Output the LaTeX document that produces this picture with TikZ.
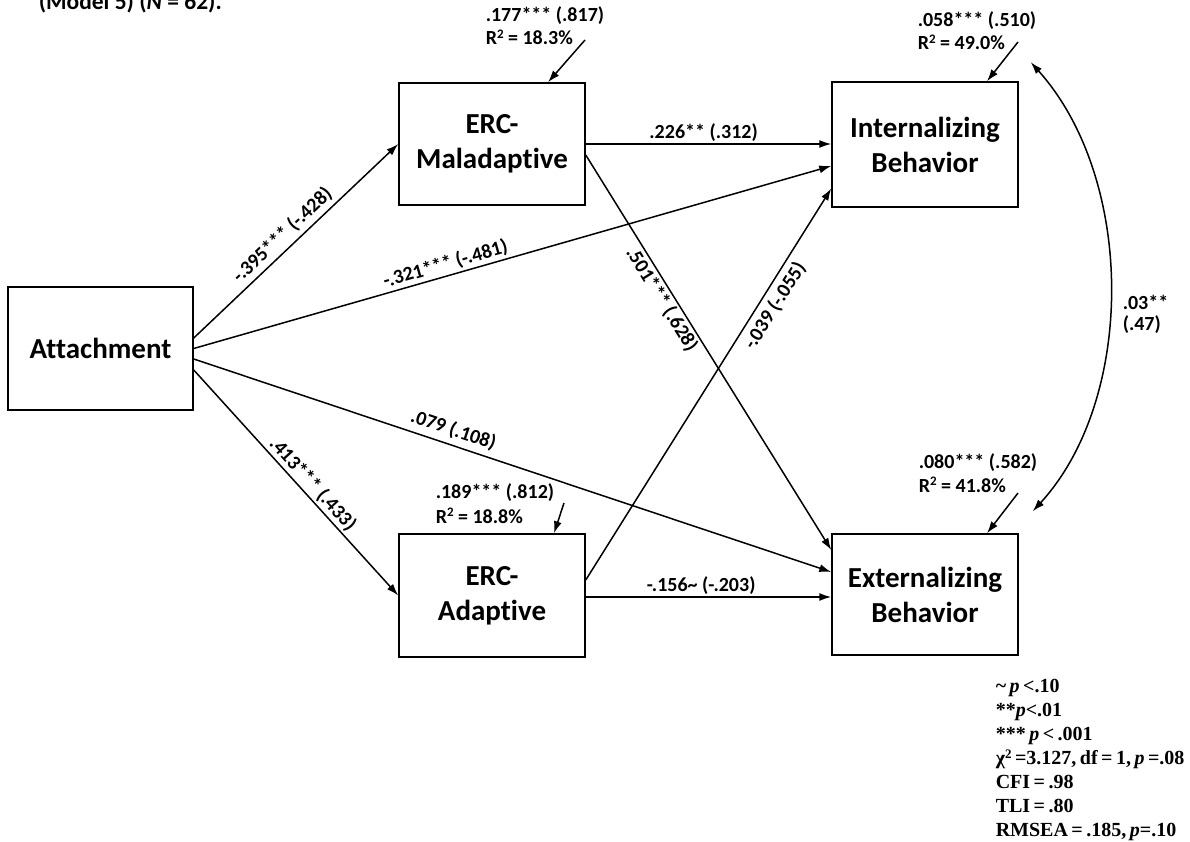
\documentclass[tikz,border=0pt]{standalone}
\usepackage{fontspec}
\setmainfont{Carlito}[Ligatures={NoCommon}]
\newfontfamily\legendfont{Liberation Serif}[WordSpace=0.7]
\usetikzlibrary{arrows.meta,calc}

% raised square for R-squared and chi-squared
\newcommand{\sqmark}{\raisebox{0.62ex}{\fontsize{13}{13}\selectfont 2}}

\begin{document}
\begin{tikzpicture}[x=1pt,y=-1pt,line width=1.5pt,
  box/.style={draw,line width=1.5pt,rectangle,inner sep=0pt,align=center,
              font=\bfseries\fontsize{29}{35}\selectfont},
  path/.style={-{Latex[length=12pt,width=8pt]}},
  coef/.style={font=\bfseries\fontsize{20}{24}\selectfont,inner sep=2pt},
  resid/.style={anchor=base west,inner sep=0pt,font=\bfseries\fontsize{20}{24}\selectfont},
  legendline/.style={anchor=base west,inner sep=0pt,font=\legendfont\bfseries\fontsize{20}{24}\selectfont}]

\useasboundingbox (0,0) rectangle (1190,842);

% caption fragment at the top
\node[anchor=base west,inner sep=0pt,font=\bfseries\fontsize{23.5}{28}\selectfont] (cap) at (38,9.5) {(Model 5) (\textit{N} = 62).};

% variables
\node[box,minimum width=185pt,minimum height=123pt] (att) at (100.5,348.5) {Attachment};
\node[box,minimum width=186pt,minimum height=122pt] (mal) at (492,144) {ERC-\\Maladaptive};
\node[box,minimum width=186pt,minimum height=125pt] (int) at (925,144.5) {Internalizing\\Behavior};
\node[box,minimum width=186pt,minimum height=123pt] (ada) at (492,595.5) {ERC-\\Adaptive};
\node[box,minimum width=186pt,minimum height=121pt] (ext) at (925,594.5) {Externalizing\\Behavior};

% structural paths
\draw[path] ([yshift=10.5pt]att.east) -- (mal.west)
  node[coef,pos=.48,sloped,above=2pt] {-.395*** (-.428)};
\draw[path] (att.east) -- ([yshift=-21.5pt]int.west)
  node[coef,pos=.40,sloped,above] {-.321*** (-.481)};
\draw[path] ([yshift=-10.5pt]att.east) -- ([yshift=22.5pt]ext.west)
  node[coef,pos=.40,sloped,above=3pt] {.079 (.108)};
\draw[path] ([yshift=-21.5pt]att.east) -- (ada.west)
  node[coef,pos=.54,sloped,above] {.413*** (.433)};
\draw[path] (mal.east) -- (mal.east -| int.west)
  node[coef,pos=.48,above] {.226** (.312)};
\draw[path] ([yshift=-11pt]mal.east) -- ([yshift=44.5pt]ext.west)
  node[coef,pos=.35,sloped,below] {.501*** (.628)};
\draw[path] ([yshift=15.5pt]ada.east) -- ([yshift=-44pt]int.west)
  node[coef,pos=.72,sloped,below=3pt] {-.039 (-.055)};
\draw[path] ([yshift=-1.5pt]ada.east) -- ([yshift=-1.5pt]ada.east -| ext.west)
  node[coef,pos=.47,above] {-.156\textasciitilde{} (-.203)};

% residual arrows
\coordinate (emal) at (585,40);
\coordinate (eint) at (1018,42);
\coordinate (eada) at (564,503);
\coordinate (eext) at (1018,493);
\draw[path] (emal) -- ([xshift=56pt]mal.north);
\draw[path] (eint) -- ([xshift=62pt]int.north);
\draw[path] (eada) -- ([xshift=62pt]ada.north);
\draw[path] (eext) -- ([xshift=62pt]ext.north);

\node[resid] (rmal1) at (485,22) {.177*** (.817)};
\node[resid] (rmal2) at (485,45) {R\sqmark{} = 18.3\%};
\node[resid] (rint1) at (917,27) {.058*** (.510)};
\node[resid] (rint2) at (917,50) {R\sqmark{} = 49.0\%};
\node[resid] (rada1) at (435,498) {.189*** (.812)};
\node[resid] (rada2) at (435,523) {R\sqmark{} = 18.8\%};
\node[resid] (rext1) at (918,468) {.080*** (.582)};
\node[resid] (rext2) at (918,492) {R\sqmark{} = 41.8\%};

% residual covariance
\draw[{Latex[length=12pt,width=8pt]}-{Latex[length=12pt,width=8pt]}]
  ([shift={(12pt,19pt)}]int.north east) .. controls +(105,117) and +(103,-112) .. ([shift={(14pt,22pt)}]ext.north east);
\node[coef,anchor=west,inner sep=0pt] (cov1) at (1122,302) {.03**};
\node[coef,anchor=west,inner sep=0pt] (cov2) at (1122,325) {(.47)};

% significance and fit
\node[legendline] (l1) at (995,692) {\textasciitilde{} \textit{p} <.10};
\node[legendline] (l2) at (995,716) {**\textit{p}<.01};
\node[legendline] (l3) at (995,740) {*** \textit{p} < .001};
\node[legendline] (l4) at (995,764) {χ\sqmark{} =3.127, df = 1, \textit{p} =.08};
\node[legendline] (l5) at (995,788) {CFI = .98};
\node[legendline] (l6) at (995,812) {TLI = .80};
\node[legendline] (l7) at (995,836) {RMSEA = .185, \textit{p}=.10};
\end{tikzpicture}
\end{document}
